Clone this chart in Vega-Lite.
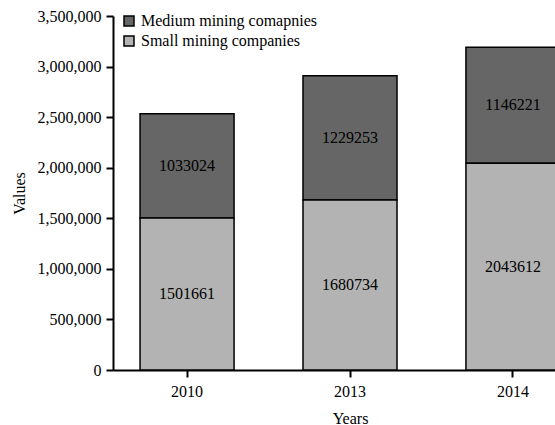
{
  "$schema": "https://vega.github.io/schema/vega-lite/v6.json",
  "autosize": "none",
  "width": 442,
  "height": 354,
  "padding": {"left": 113, "top": 16, "right": 0, "bottom": 55},
  "background": "white",
  "config": {
    "font": "Liberation Serif",
    "view": {"stroke": null},
    "axis": {
      "domainColor": "black",
      "domainWidth": 2,
      "tickColor": "black",
      "tickWidth": 2,
      "tickSize": 7,
      "labelColor": "black",
      "labelFontSize": 16,
      "labelFont": "Liberation Serif",
      "titleFont": "Liberation Serif",
      "titleFontSize": 16,
      "titleFontWeight": "normal",
      "titleColor": "black",
      "grid": false
    }
  },
  "data": {
    "values": [
      {"year": "2010", "type": "Medium mining comapnies", "value": 1033024},
      {"year": "2010", "type": "Small mining companies", "value": 1501661},
      {"year": "2013", "type": "Medium mining comapnies", "value": 1229253},
      {"year": "2013", "type": "Small mining companies", "value": 1680734},
      {"year": "2014", "type": "Medium mining comapnies", "value": 1146221},
      {"year": "2014", "type": "Small mining companies", "value": 2043612}
    ]
  },
  "transform": [
    {"stack": "value", "groupby": ["year"], "sort": [{"field": "type", "order": "descending"}], "as": ["v0", "v1"]}
  ],
  "encoding": {
    "x": {
      "field": "year",
      "type": "ordinal",
      "scale": {"range": [0, 474], "paddingInner": 0.423, "paddingOuter": 0.166},
      "axis": {"title": "Years", "labelAngle": 0, "labelPadding": 6, "titlePadding": 11}
    }
  },
  "layer": [
    {
      "mark": {"type": "bar", "stroke": "black", "strokeWidth": 1.5},
      "encoding": {
        "y": {
          "field": "v0",
          "type": "quantitative",
          "scale": {"domain": [0, 3500000], "nice": false},
          "axis": {
            "title": "Values",
            "values": [0, 500000, 1000000, 1500000, 2000000, 2500000, 3000000, 3500000],
            "format": ",d",
            "labelPadding": 5,
            "titlePadding": 10
          }
        },
        "y2": {"field": "v1"},
        "color": {
          "field": "type",
          "type": "nominal",
          "scale": {"domain": ["Medium mining comapnies", "Small mining companies"], "range": ["#666666", "#b3b3b3"]},
          "legend": {
            "title": null,
            "orient": "none",
            "legendX": 8,
            "legendY": -3,
            "symbolType": "square",
            "symbolSize": 100,
            "symbolStrokeColor": "black",
            "symbolStrokeWidth": 1.5,
            "labelFontSize": 16,
            "labelFont": "Liberation Serif",
            "labelColor": "black",
            "labelOffset": 4,
            "labelLimit": 0,
            "rowPadding": 4,
            "padding": 0
          }
        }
      }
    },
    {
      "transform": [
        {"fold": ["v0", "v1"], "as": ["edge", "pos"]}
      ],
      "mark": {"type": "text", "fontSize": 16, "font": "Liberation Serif", "color": "black", "baseline": "middle"},
      "encoding": {
        "y": {"field": "pos", "type": "quantitative", "aggregate": "mean"},
        "text": {"field": "value", "type": "nominal"}
      }
    }
  ]
}
